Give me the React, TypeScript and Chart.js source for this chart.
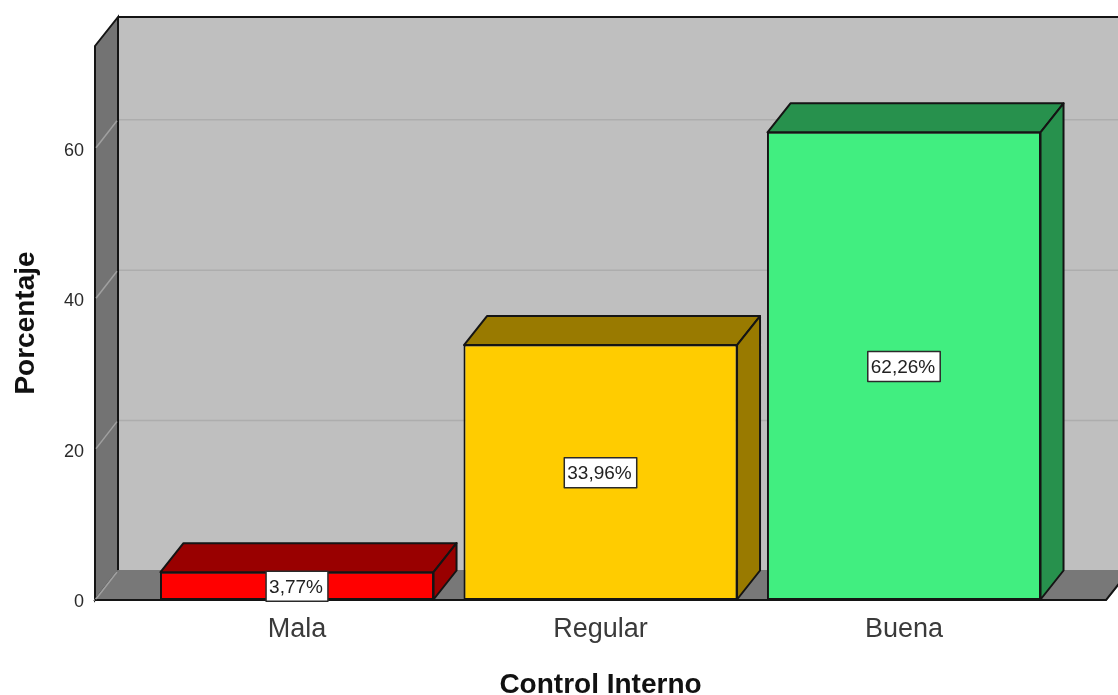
import React, { useEffect, useRef } from "react";
import { Chart, registerables } from "chart.js";

Chart.register(...registerables);

const categories = ["Mala", "Regular", "Buena"];
const percentages = [3.77, 33.96, 62.26];
const valueLabels = ["3,77%", "33,96%", "62,26%"];
const frontColors = ["#ff0000", "#ffcc00", "#41ee80"];
const shadeColors = ["#990000", "#997a00", "#27914d"];
const yTicks = [0, 20, 40, 60];

const WIDTH = 1118;
const HEIGHT = 695;
const DEPTH_X = 23;
const DEPTH_Y = 29;
const EDGE = "#141414";
const FONT = '"Liberation Sans", Arial, sans-serif';

function polygon(ctx: CanvasRenderingContext2D, pts: number[][], fill: string, stroke = EDGE, lw = 2) {
  ctx.beginPath();
  pts.forEach(([x, y], i) => (i ? ctx.lineTo(x, y) : ctx.moveTo(x, y)));
  ctx.closePath();
  ctx.fillStyle = fill;
  ctx.fill();
  ctx.lineWidth = lw;
  ctx.strokeStyle = stroke;
  ctx.stroke();
}

// Back wall, side wall, floor and grid lines of the 3D box behind the bars.
const boxPlugin = {
  id: "box",
  beforeDatasetsDraw(chart: any) {
    const { ctx, chartArea: a, scales } = chart;
    const L = a.left, R = a.right, T = a.top, B = a.bottom;
    const dx = DEPTH_X, dy = DEPTH_Y;
    ctx.save();
    ctx.fillStyle = "#bfbfbf";
    ctx.fillRect(L + dx, T - dy, WIDTH - L - dx, B - T);
    ctx.strokeStyle = "#adadad";
    ctx.lineWidth = 1.5;
    yTicks.forEach((t) => {
      const y = scales.y.getPixelForValue(t);
      ctx.beginPath();
      ctx.moveTo(L + dx, y - dy);
      ctx.lineTo(WIDTH, y - dy);
      ctx.stroke();
    });
    polygon(ctx, [[L, T], [L + dx, T - dy], [L + dx, B - dy], [L, B]], "#737373");
    polygon(ctx, [[L, B], [L + dx, B - dy], [R + dx, B - dy], [R, B]], "#787878", "#787878", 0);
    ctx.strokeStyle = EDGE;
    ctx.lineWidth = 2;
    ctx.beginPath();
    ctx.moveTo(L + dx, T - dy);
    ctx.lineTo(WIDTH, T - dy);
    ctx.moveTo(L, B);
    ctx.lineTo(R, B);
    ctx.lineTo(R + dx, B - dy);
    ctx.stroke();
    ctx.strokeStyle = "#a0a0a0";
    ctx.lineWidth = 1.5;
    yTicks.forEach((t) => {
      const y = scales.y.getPixelForValue(t);
      ctx.beginPath();
      ctx.moveTo(L + 1, y - 1);
      ctx.lineTo(L + dx - 1, y - dy + 1);
      ctx.stroke();
    });
    ctx.restore();
  },
};

// Top and side faces of each bar, plus the boxed value labels.
const barFacesPlugin = {
  id: "barFaces",
  afterDatasetsDraw(chart: any) {
    const { ctx } = chart;
    const dx = DEPTH_X, dy = DEPTH_Y;
    const bars = chart.getDatasetMeta(0).data;
    ctx.save();
    ctx.lineJoin = "round";
    bars.forEach((bar: any, i: number) => {
      const l = bar.x - bar.width / 2 + 0.5;
      const r = bar.x + bar.width / 2 - 0.5;
      const t = bar.y + 0.5;
      const b = bar.base - 0.5;
      polygon(ctx, [[l, t], [l + dx, t - dy], [r + dx, t - dy], [r, t]], shadeColors[i]);
      polygon(ctx, [[r, t], [r + dx, t - dy], [r + dx, b - dy], [r, b]], shadeColors[i]);
    });
    ctx.font = `19px ${FONT}`;
    ctx.textBaseline = "middle";
    ctx.textAlign = "center";
    bars.forEach((bar: any, i: number) => {
      const cy = (bar.y + bar.base) / 2 + 0.5;
      const w = ctx.measureText(valueLabels[i]).width + 8;
      const h = 30;
      ctx.fillStyle = "#ffffff";
      ctx.fillRect(bar.x - w / 2, cy - h / 2, w, h);
      ctx.strokeStyle = "#2a2a2a";
      ctx.lineWidth = 1.5;
      ctx.strokeRect(bar.x - w / 2, cy - h / 2, w, h);
      ctx.fillStyle = "#222222";
      ctx.fillText(valueLabels[i], bar.x - 1, cy + 1);
    });
    ctx.restore();
  },
};

export default function App() {
  const ref = useRef<HTMLCanvasElement | null>(null);

  useEffect(() => {
    const chart = new Chart(ref.current as HTMLCanvasElement, {
      type: "bar",
      data: {
        datasets: [
          {
            data: percentages.map((y, x) => ({ x, y })),
            backgroundColor: frontColors,
            borderColor: EDGE,
            borderWidth: 2,
            borderSkipped: false,
            barPercentage: 0.903,
            categoryPercentage: 1,
          },
        ],
      },
      options: {
        animation: false,
        responsive: false,
        devicePixelRatio: 1,
        layout: { padding: { top: 46, right: 12, left: 0, bottom: 0 } },
        plugins: { legend: { display: false }, tooltip: { enabled: false } },
        scales: {
          x: {
            type: "linear",
            offset: false,
            min: -0.6656,
            max: 2.6656,
            grid: { display: false, offset: false },
            border: { display: false },
            afterBuildTicks: (axis: any) => {
              axis.ticks = categories.map((_, value) => ({ value }));
            },
            afterFit: (axis: any) => {
              axis.height = 95;
            },
            ticks: {
              autoSkip: false,
              maxRotation: 0,
              padding: 5,
              color: "#3a3a3a",
              font: { family: FONT, size: 27 },
              callback: (v: any) => categories[v],
            },
            title: {
              display: true,
              text: "Control Interno",
              color: "#111111",
              font: { family: FONT, size: 28, weight: "bold" },
              padding: { top: 0, bottom: -7 },
            },
          },
          y: {
            min: 0,
            max: 73.67,
            grid: { display: false },
            border: { display: false },
            afterBuildTicks: (axis: any) => {
              axis.ticks = yTicks.map((value) => ({ value }));
            },
            afterFit: (axis: any) => {
              axis.width = 95;
            },
            ticks: {
              padding: 3,
              labelOffset: 2,
              color: "#2a2a2a",
              font: { family: FONT, size: 18 },
            },
            title: {
              display: true,
              text: "Porcentaje",
              color: "#111111",
              font: { family: FONT, size: 28, weight: "bold" },
              padding: { top: 9, bottom: 0 },
            },
          },
        },
      },
      plugins: [boxPlugin, barFacesPlugin],
    } as any);
    return () => chart.destroy();
  }, []);

  return (
    <div style={{ position: "absolute", left: 0, top: 0, width: WIDTH, height: HEIGHT }}>
      <canvas ref={ref} width={WIDTH} height={HEIGHT} style={{ display: "block" }} />
    </div>
  );
}
